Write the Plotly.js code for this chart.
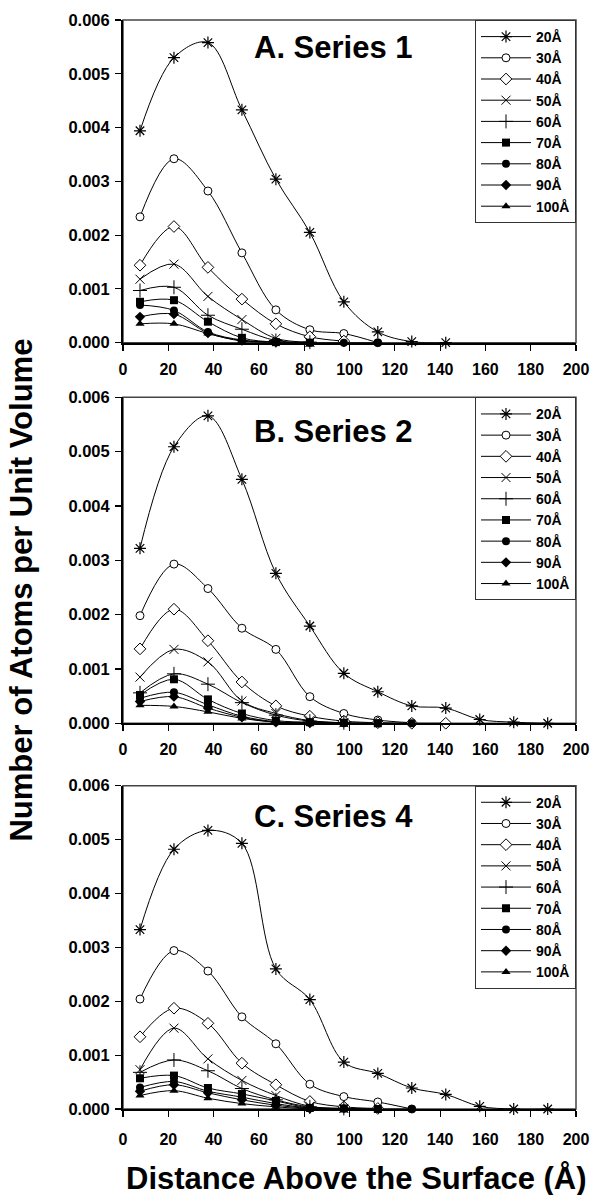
<!DOCTYPE html>
<html>
<head>
<meta charset="utf-8">
<script src="https://cdn.plot.ly/plotly-3.0.1.min.js"></script>
<style>
  html, body { margin: 0; padding: 0; background: #ffffff; }
  #chart { width: 593px; height: 1195px; }
</style>
</head>
<body>
<div id="chart"></div>
<script>
// Distance above the surface (Å) at which each density sample was taken
const distance = [7.5, 22.5, 37.5, 52.5, 67.5, 82.5, 97.5, 112.5, 127.5, 142.5, 157.5, 172.5, 187.5];

// Particle sizes shown in every legend
const sizeLabels = ['20Å', '30Å', '40Å', '50Å', '60Å', '70Å', '80Å', '90Å', '100Å'];

// Panel headings
const panelTitles = ['A. Series 1', 'B. Series 2', 'C. Series 4'];

// Axis ticks
const distanceTicks = [0, 20, 40, 60, 80, 100, 120, 140, 160, 180, 200];
const densityTicks = [0, 0.001, 0.002, 0.003, 0.004, 0.005, 0.006];

// Series 1 — atoms per unit volume
const s1_20  = [0.00394, 0.00530, 0.00558, 0.00433, 0.00304, 0.00205, 0.00076, 0.00020, 0.00002, 0.00000];
const s1_30  = [0.00234, 0.00342, 0.00282, 0.00167, 0.00061, 0.00024, 0.00017, 0.00000];
const s1_40  = [0.00144, 0.00216, 0.00140, 0.00081, 0.00035, 0.00011, 0.00003];
const s1_50  = [0.00118, 0.00146, 0.00086, 0.00043, 0.00008, 0.00001];
const s1_60  = [0.00097, 0.00103, 0.00051, 0.00025, 0.00004, 0.00001];
const s1_70  = [0.00076, 0.00079, 0.00039, 0.00009, 0.00001, 0.00000];
const s1_80  = [0.00070, 0.00060, 0.00020, 0.00005, 0.00001, 0.00000, 0.00000, 0.00000];
const s1_90  = [0.00048, 0.00053, 0.00018, 0.00004, 0.00001];
const s1_100 = [0.00035, 0.00035, 0.00017, 0.00003, 0.00001];

// Series 2 — atoms per unit volume
const s2_20  = [0.00322, 0.00509, 0.00566, 0.00449, 0.00276, 0.00179, 0.00092, 0.00058, 0.00032, 0.00028, 0.00007, 0.00002, 0.00000];
const s2_30  = [0.00198, 0.00293, 0.00248, 0.00175, 0.00136, 0.00049, 0.00018, 0.00006, 0.00001];
const s2_40  = [0.00137, 0.00210, 0.00152, 0.00076, 0.00032, 0.00013, 0.00004, 0.00001, 0.00000, 0.00000];
const s2_50  = [0.00085, 0.00136, 0.00113, 0.00041, 0.00018, 0.00005, 0.00001];
const s2_60  = [0.00056, 0.00091, 0.00072, 0.00038, 0.00015, 0.00004, 0.00001];
const s2_70  = [0.00052, 0.00081, 0.00044, 0.00018, 0.00005, 0.00002, 0.00001, 0.00000];
const s2_80  = [0.00046, 0.00057, 0.00034, 0.00013, 0.00003, 0.00001, 0.00000, 0.00000, 0.00000];
const s2_90  = [0.00040, 0.00049, 0.00028, 0.00011, 0.00002, 0.00001];
const s2_100 = [0.00033, 0.00031, 0.00021, 0.00009, 0.00002, 0.00000];

// Series 4 — atoms per unit volume
const s4_20  = [0.00333, 0.00482, 0.00517, 0.00493, 0.00260, 0.00203, 0.00087, 0.00066, 0.00039, 0.00027, 0.00005, 0.00000, 0.00000];
const s4_30  = [0.00204, 0.00294, 0.00256, 0.00171, 0.00121, 0.00046, 0.00023, 0.00013, 0.00000];
const s4_40  = [0.00134, 0.00187, 0.00159, 0.00085, 0.00045, 0.00014, 0.00004, 0.00001];
const s4_50  = [0.00073, 0.00150, 0.00093, 0.00053, 0.00025, 0.00005, 0.00001];
const s4_60  = [0.00068, 0.00091, 0.00071, 0.00038, 0.00017, 0.00004, 0.00001];
const s4_70  = [0.00057, 0.00062, 0.00039, 0.00028, 0.00015, 0.00002, 0.00001, 0.00000];
const s4_80  = [0.00040, 0.00051, 0.00033, 0.00022, 0.00010, 0.00002, 0.00001, 0.00000, 0.00000];
const s4_90  = [0.00033, 0.00045, 0.00030, 0.00017, 0.00007, 0.00001];
const s4_100 = [0.00025, 0.00034, 0.00020, 0.00010, 0.00004, 0.00000];

const panels = [
  [s1_20, s1_30, s1_40, s1_50, s1_60, s1_70, s1_80, s1_90, s1_100],
  [s2_20, s2_30, s2_40, s2_50, s2_60, s2_70, s2_80, s2_90, s2_100],
  [s4_20, s4_30, s4_40, s4_50, s4_60, s4_70, s4_80, s4_90, s4_100]
];

// One marker style per particle size
const markerStyles = [
  { symbol: 'asterisk-open',   size: 10, color: 'black', line: { color: 'black', width: 1.2 } },
  { symbol: 'circle',          size: 8,  color: 'white', line: { color: 'black', width: 1 } },
  { symbol: 'diamond',         size: 9,  color: 'white', line: { color: 'black', width: 1 } },
  { symbol: 'x-thin-open',     size: 9,  color: 'black', line: { color: 'black', width: 1 } },
  { symbol: 'cross-thin-open', size: 10, color: 'black', line: { color: 'black', width: 1 } },
  { symbol: 'square',          size: 8,  color: 'black', line: { color: 'black', width: 0 } },
  { symbol: 'circle',          size: 8,  color: 'black', line: { color: 'black', width: 0 } },
  { symbol: 'diamond',         size: 8,  color: 'black', line: { color: 'black', width: 0 } },
  { symbol: 'triangle-up',     size: 8,  color: 'black', line: { color: 'black', width: 0 } }
];

const FONT = 'Arial, "Liberation Sans", Helvetica, sans-serif';
const legendNames = ['legend', 'legend2', 'legend3'];
const xNames = ['x', 'x2', 'x3'];
const yNames = ['y', 'y2', 'y3'];

const traces = [];
panels.forEach((panel, p) => {
  panel.forEach((values, i) => {
    traces.push({
      type: 'scatter',
      mode: 'lines+markers',
      name: sizeLabels[i],
      x: distance.slice(0, values.length),
      y: values,
      xaxis: xNames[p],
      yaxis: yNames[p],
      legend: legendNames[p],
      cliponaxis: false,
      line: { color: 'black', width: 1, shape: 'spline', smoothing: 1 },
      marker: markerStyles[i]
    });
  });
});

// Vertical extent of each panel (paper fraction)
const yDomains = [[0.7037, 1.0], [0.3542, 0.6535], [0.0, 0.2969]];
const labelStandoff = [5, 5, 9];

const layout = {
  width: 593,
  height: 1195,
  margin: { l: 123, r: 17, t: 20, b: 86 },
  paper_bgcolor: 'white',
  plot_bgcolor: 'white',
  showlegend: true,
  font: { family: FONT, color: 'black', size: 15, weight: 'bold' },
  annotations: [],
  shapes: []
};

for (let p = 0; p < 3; p++) {
  const xs = p === 0 ? '' : String(p + 1);
  layout['xaxis' + xs] = {
    domain: [0, 1],
    anchor: yNames[p],
    range: [0, 200],
    tickmode: 'array',
    tickvals: distanceTicks,
    ticks: 'outside',
    ticklen: 6,
    tickwidth: 1.2,
    tickcolor: 'black',
    ticklabelstandoff: labelStandoff[p],
    showgrid: false,
    zeroline: false,
    showline: true,
    linecolor: 'black',
    linewidth: 2,
    tickfont: { family: FONT, size: 16, color: 'black', weight: 'bold' }
  };
  // companion axis carrying the inner half of the crossing tick marks
  layout['xaxis' + (p + 4)] = {
    overlaying: xNames[p],
    anchor: yNames[p],
    range: [0, 200],
    tickmode: 'array',
    tickvals: distanceTicks,
    ticks: 'inside',
    ticklen: 4,
    tickwidth: 1.2,
    tickcolor: 'black',
    showticklabels: false,
    showgrid: false,
    zeroline: false,
    showline: false
  };
  layout['yaxis' + xs] = {
    domain: yDomains[p],
    anchor: xNames[p],
    range: [0, 0.006],
    tickmode: 'array',
    tickvals: densityTicks,
    tickformat: '.3f',
    ticks: 'outside',
    ticklen: 6,
    tickwidth: 1.2,
    tickcolor: 'black',
    ticklabelstandoff: 2,
    showgrid: false,
    zeroline: false,
    showline: true,
    linecolor: 'black',
    linewidth: 2,
    tickfont: { family: FONT, size: 16.5, color: 'black', weight: 'bold' }
  };
  layout[legendNames[p]] = {
    x: 1,
    xanchor: 'right',
    y: yDomains[p][1],
    yanchor: 'top',
    xref: 'paper',
    yref: 'paper',
    bgcolor: 'white',
    bordercolor: '#333333',
    borderwidth: 1,
    tracegroupgap: 0,
    itemwidth: 50,
    font: { family: FONT, size: 14, color: 'black', weight: 'bold' }
  };
  // frame around the plotting area
  layout.shapes.push({
    type: 'rect',
    xref: xNames[p] + ' domain',
    yref: yNames[p] + ' domain',
    x0: 0, x1: 1, y0: 0, y1: 1,
    line: { color: '#444444', width: 1.5 },
    layer: 'below'
  });
  // panel heading
  layout.annotations.push({
    text: panelTitles[p],
    xref: xNames[p] + ' domain',
    yref: yNames[p] + ' domain',
    x: 0.465,
    y: [0.915, 0.895, 0.905][p],
    xanchor: 'center',
    yanchor: 'middle',
    showarrow: false,
    font: { family: FONT, size: 31, color: 'black', weight: 'bold' }
  });
}

// Shared axis titles
layout.annotations.push({
  text: 'Number of Atoms per Unit Volume',
  xref: 'paper', yref: 'paper',
  x: -0.223, y: 0.477,
  xanchor: 'center', yanchor: 'middle',
  textangle: -90,
  showarrow: false,
  font: { family: FONT, size: 31, color: 'black', weight: 'bold' }
});
layout.annotations.push({
  text: 'Distance Above the Surface (Å)',
  xref: 'paper', yref: 'paper',
  x: 0.516, y: -0.0634,
  xanchor: 'center', yanchor: 'middle',
  showarrow: false,
  font: { family: FONT, size: 31, color: 'black', weight: 'bold' }
});

Plotly.newPlot('chart', traces, layout, { staticPlot: true, displayModeBar: false });
</script>
</body>
</html>
